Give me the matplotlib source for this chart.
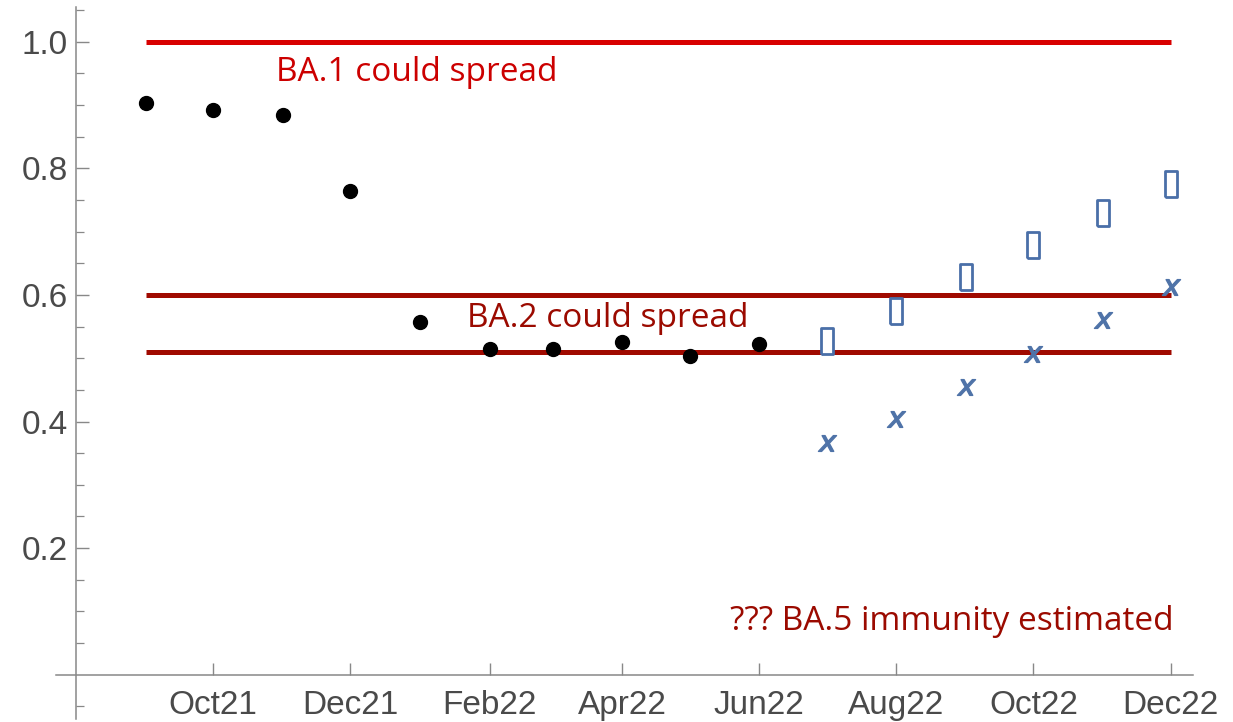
import numpy as np
import pandas as pd
import matplotlib
matplotlib.use("Agg")
import matplotlib.pyplot as plt
import matplotlib.dates as mdates

# monthly values
measured_months = pd.date_range("2021-09-01", "2022-06-01", freq="MS")
measured = [0.903, 0.892, 0.885, 0.765, 0.557, 0.514, 0.514, 0.525, 0.503, 0.523]

proj_months = pd.date_range("2022-07-01", "2022-12-01", freq="MS")
proj_box = [0.528, 0.574, 0.628, 0.679, 0.730, 0.775]
proj_x = [0.366, 0.404, 0.455, 0.507, 0.560, 0.612]

thresholds = [1.0, 0.6, 0.51]
threshold_colors = ["#d80000", "#a00a00", "#a00a00"]
line_start, line_end = pd.Timestamp("2021-09-01"), pd.Timestamp("2022-12-01")

labels = [
    ("BA.1 could spread", pd.Timestamp("2021-10-29"), 0.952, "#cc0000"),
    ("BA.2 could spread", pd.Timestamp("2022-01-22"), 0.563, "#9b0a00"),
    ("??? BA.5 immunity estimated", pd.Timestamp("2022-05-19"), 0.084, "#9b0a00"),
]

tick_dates = pd.date_range("2021-10-01", "2022-12-01", freq="2MS")
tick_labels = [d.strftime("%b%y") for d in tick_dates]

fig = plt.figure(figsize=(12.33, 7.22), dpi=100)
ax = fig.add_axes([56 / 1233, 3 / 722, (1193 - 56) / 1233, (719 - 7) / 722])

ax.set_xlim(pd.Timestamp("2021-07-23"), pd.Timestamp("2022-12-11"))
ax.set_ylim(-0.07, 1.055)

for y, c in zip(thresholds, threshold_colors):
    ax.hlines(y, line_start, line_end, color=c, lw=3.6, zorder=2)

ax.plot(measured_months, measured, "o", color="black", ms=10, zorder=3)

box = [(-0.48, -1), (0.48, -1), (0.48, 1), (-0.48, 1), (-0.48, -1)]
ax.plot(proj_months, proj_box, linestyle="none", marker=box, ms=18.5,
        mfc="white", mec="#4a6fa8", mew=2.0, zorder=3)
ax.plot(proj_months, proj_x, linestyle="none", marker="$x$", ms=13,
        color="#4f73a8", zorder=4)

for text, x, y, c in labels:
    ax.text(x, y, text, color=c, fontsize=24, family="Open Sans",
            va="center", ha="left")

# mathematica style axes
for s in ["top", "right"]:
    ax.spines[s].set_visible(False)
ax.spines["left"].set_position(("data", mdates.date2num(pd.Timestamp("2021-08-01"))))
ax.spines["bottom"].set_position(("data", 0))
for s in ["left", "bottom"]:
    ax.spines[s].set_color("#888888")
    ax.spines[s].set_linewidth(1.1)

ax.set_yticks([0.2, 0.4, 0.6, 0.8, 1.0])
ax.set_yticklabels(["0.2", "0.4", "0.6", "0.8", "1.0"])
minor = [v for v in np.arange(-0.05, 1.06, 0.05) if round(v, 2) not in (0.0, 0.2, 0.4, 0.6, 0.8, 1.0)]
ax.set_yticks(minor, minor=True)
ax.set_xticks(tick_dates)
ax.set_xticklabels(tick_labels)

ax.tick_params(axis="both", which="both", direction="in", color="#888888",
               labelcolor="#4a4a4a", labelsize=24)
ax.tick_params(axis="y", which="major", length=9, width=1.0, pad=6)
ax.tick_params(axis="y", which="minor", length=6, width=0.9)
ax.tick_params(axis="x", which="major", length=9, width=1.0, pad=11)
for lab in ax.get_xticklabels() + ax.get_yticklabels():
    lab.set_family("Liberation Sans")

fig.savefig("out.png", dpi=100)
